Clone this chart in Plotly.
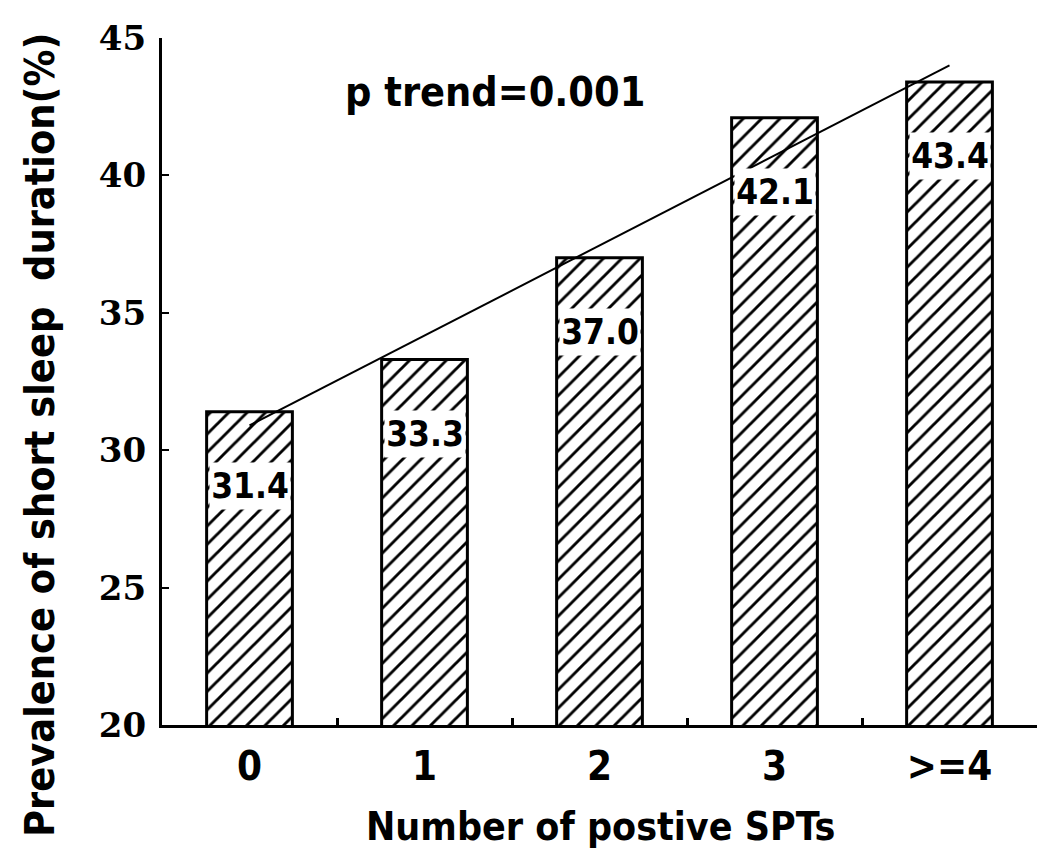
import plotly.graph_objects as go

categories = ["0", "1", "2", "3", ">=4"]
prevalence = [31.4, 33.3, 37.0, 42.1, 43.4]
bar_labels = ["31.4", "33.3", "37.0", "42.1", "43.4"]
trend_x = ["0", ">=4"]
trend_y = [30.9, 44.0]
y_ticks = [20, 25, 30, 35, 40, 45]

NARROW = "Liberation Sans Narrow, DejaVu Sans Condensed, Arial Narrow, sans-serif"
SERIF = "DejaVu Serif, Liberation Serif, serif"

# plot area in pixels (for placing titles)
L, R, T, B = 162, 1037, 38, 725
W, H = R - L, B - T


def px(xp):
    return (xp - L) / W


def py(yp):
    return 1 - (yp - T) / H


fig = go.Figure()
fig.add_trace(go.Bar(
    x=categories, y=prevalence, width=0.49,
    marker=dict(color="white", line=dict(color="black", width=3),
                pattern=dict(shape="/", size=13, solidity=0.22, fgopacity=1,
                             fgcolor="#000000", bgcolor="white", fillmode="overlay")),
    showlegend=False, hoverinfo="skip",
))
fig.add_trace(go.Scatter(
    x=trend_x, y=trend_y, mode="lines",
    line=dict(color="black", width=2), showlegend=False, hoverinfo="skip",
))

for c, v, t in zip(categories, prevalence, bar_labels):
    fig.add_annotation(x=c, y=v, text=t, showarrow=False,
                       yanchor="middle", yshift=-74, bgcolor="white",
                       width=78, height=44,
                       font=dict(family=NARROW, size=35, color="black", weight="bold"))

fig.add_annotation(x=px(495), y=py(92), xref="paper", yref="paper",
                   text="p trend=0.001", showarrow=False,
                   xanchor="center", yanchor="middle",
                   font=dict(family=NARROW, size=41, color="black", weight="bold"))
fig.add_annotation(x=px(600), y=py(826), xref="paper", yref="paper",
                   text="Number of postive SPTs", showarrow=False,
                   xanchor="center", yanchor="middle",
                   font=dict(family=NARROW, size=39, color="black", weight="bold"))
fig.add_annotation(x=px(40), y=py(435), xref="paper", yref="paper",
                   text="Prevalence of short sleep  duration(%)", showarrow=False,
                   textangle=-90, xanchor="center", yanchor="middle",
                   font=dict(family=NARROW, size=41, color="black", weight="bold"))

fig.update_layout(
    width=1050, height=861,
    margin=dict(l=L, r=1050 - R, t=T, b=861 - B),
    paper_bgcolor="white", plot_bgcolor="white",
    xaxis=dict(type="category", showline=True, linecolor="black", linewidth=3,
               ticks="inside", tickson="boundaries", ticklen=7, tickwidth=3,
               tickcolor="black", showgrid=False, zeroline=False, automargin=False,
               ticklabelstandoff=4,
               tickfont=dict(family=NARROW, size=40, color="black", weight="bold")),
    yaxis=dict(range=[20, 45], tickvals=y_ticks, showline=True, linecolor="black",
               linewidth=3, ticks="inside", ticklen=7, tickwidth=2, tickcolor="black",
               showgrid=False, zeroline=False, automargin=False,
               ticklabelstandoff=6,
               tickfont=dict(family=SERIF, size=34, color="black", weight="bold")),
)
fig.write_html("out.html", config={"displayModeBar": False},
               post_script="document.body.style.margin='0';document.body.style.overflow='hidden';")
